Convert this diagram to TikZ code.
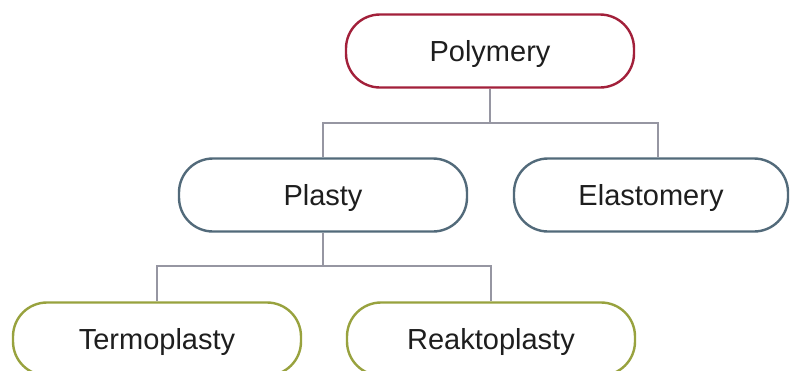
\documentclass[tikz,border=0pt]{standalone}
\usepackage{fontspec}
\setmainfont{Liberation Sans}
\definecolor{polyred}{RGB}{162,32,58}
\definecolor{slate}{RGB}{82,106,122}
\definecolor{olive}{RGB}{152,162,62}
\definecolor{connc}{RGB}{150,150,162}
\definecolor{txt}{RGB}{30,30,30}
\begin{document}
\begin{tikzpicture}[x=1pt,y=-1pt,
  pill/.style={draw, rectangle, rounded corners=34pt, line width=2.4pt, fill=white,
    minimum width=288pt, minimum height=73pt, inner sep=0pt, text=txt,
    text height=24pt, text depth=3pt,
    font=\fontsize{29}{34}\selectfont},
  conn/.style={draw=connc, line width=1.3pt}]
\clip (0,0) rectangle (790,370);
\fill[white] (0,0) rectangle (790,370);
\node[pill, draw=polyred] (poly) at (490,51) {Polymery};
\node[pill, draw=slate] (plasty) at (323,195) {Plasty};
\node[pill, draw=slate, minimum width=274pt] (elast) at (651,195) {Elastomery};
\node[pill, draw=olive] (termo) at (157,339) {Termoplasty};
\node[pill, draw=olive] (reakt) at (491,339) {Reaktoplasty};
\coordinate (j1) at (490,123);
\coordinate (j2) at (323,266);
\draw[conn] (poly.south) -- (j1);
\draw[conn] (j1) -| (plasty.north);
\draw[conn] (j1) -| ([xshift=7pt]elast.north);
\draw[conn] (plasty.south) -- (j2);
\draw[conn] (j2) -| (termo.north);
\draw[conn] (j2) -| (reakt.north);
\end{tikzpicture}
\end{document}
